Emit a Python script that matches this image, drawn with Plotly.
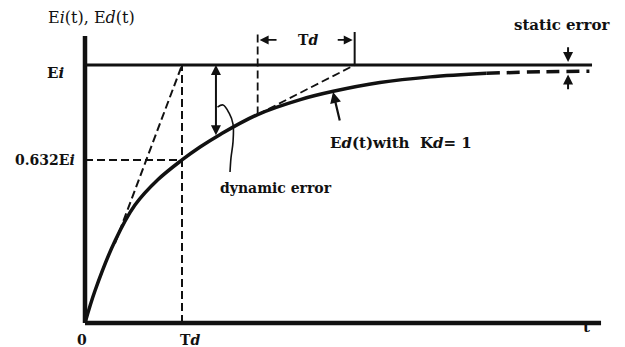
import plotly.graph_objects as go

# Time in units of Td, amplitude in units of Ei
T_CURVE = [0, 0.103, 0.309, 0.515, 0.753, 1.0, 1.186, 1.39, 1.78, 2.22, 2.56, 3.04, 3.56, 4.14]
ED_CURVE = [0, 0.125, 0.318, 0.457, 0.556, 0.632, 0.682, 0.730, 0.808, 0.866, 0.898, 0.932, 0.954, 0.968]
T_TAIL = [4.14, 4.74, 5.2]
ED_TAIL = [0.968, 0.974, 0.976]

EI = 1.0
TD = 1.0
LEVEL_632 = 0.632
T_END_AXIS = 5.32
T_END_EI = 5.227
Y_TOP_AXIS = 1.112

T_ORIGIN_TANGENT = [0.309, 1.0]          # tangent at t=0 reaching Ei at Td
T_LATER_TANGENT = [1.78, 2.78]           # tangent at t0 reaching Ei at t0+Td
ED_LATER = 0.808
T_DYN = 1.35
ED_DYN = 0.722
T_STATIC = 4.98

HOOK_T = [1.366, 1.423, 1.485, 1.526, 1.526, 1.505, 1.495]
HOOK_Y = [0.837, 0.845, 0.814, 0.771, 0.702, 0.640, 0.585]

XR = [-85 / 97, 540 / 97]
YR = [-(347 - 323) / 258, 323 / 258]

BLACK = "#111111"
SERIF = "DejaVu Serif, Liberation Serif, serif"

fig = go.Figure()


def line(x, y, width=2, dash=None, shape="linear"):
    fig.add_trace(go.Scatter(
        x=x, y=y, mode="lines", hoverinfo="skip", showlegend=False,
        line=dict(color=BLACK, width=width, dash=dash, shape=shape)))


# axes
line([0, 0], [0, Y_TOP_AXIS], width=4.5)
line([0, T_END_AXIS], [0, 0], width=4.5)
# input level Ei
line([0, T_END_EI], [EI, EI], width=3)
# response Ed(t)
line(T_CURVE, ED_CURVE, width=3.5, shape="spline")
line(T_TAIL, ED_TAIL, width=3.5, dash="13px,7px", shape="spline")

# construction lines
DASH = "8px,4px"
line(T_ORIGIN_TANGENT, [T_ORIGIN_TANGENT[0], EI], width=2, dash=DASH)
line([TD, TD], [0, EI], width=2, dash=DASH)
line([0, TD], [LEVEL_632, LEVEL_632], width=2, dash=DASH)
line(T_LATER_TANGENT, [ED_LATER, EI], width=1.8, dash=DASH)
line([T_LATER_TANGENT[0], T_LATER_TANGENT[0]], [ED_LATER, 1.128], width=1.8, dash=DASH)
line([T_LATER_TANGENT[1], T_LATER_TANGENT[1]], [EI, 1.128], width=2)

# leader for dynamic error
line(HOOK_T, HOOK_Y, width=1.6, shape="spline")

annotations = []


def arrow(t0, y0, t1, y1, both=False, width=2):
    annotations.append(dict(
        x=t1, y=y1, ax=t0, ay=y0, xref="x", yref="y", axref="x", ayref="y",
        text="", showarrow=True, arrowhead=2, arrowsize=1, arrowwidth=width,
        arrowcolor=BLACK, arrowside="end+start" if both else "end",
        startarrowhead=2, startarrowsize=1))


def label(t, y, text, size=14, bold=True, xanchor="center"):
    annotations.append(dict(
        x=t, y=y, xref="x", yref="y", text=("<b>%s</b>" % text) if bold else text,
        showarrow=False, xanchor=xanchor, yanchor="middle",
        font=dict(family=SERIF, size=size, color=BLACK)))


# dynamic error double arrow
arrow(T_DYN, ED_DYN, T_DYN, EI, both=True, width=2)
# Td span arrows
arrow(1.99, 1.097, T_LATER_TANGENT[0] + 0.02, 1.097, width=1.8)
arrow(2.59, 1.097, T_LATER_TANGENT[1] - 0.02, 1.097, width=1.8)
# pointer to Ed(t)
arrow(2.63, 0.779, 2.557, 0.895, width=2.2)
# static error arrows
arrow(T_STATIC, 1.075, T_STATIC, 1.012, width=2)
arrow(T_STATIC, 0.90, T_STATIC, 0.963, width=2)

label(0.07, 1.186, "E<i>i</i>(t), E<i>d</i>(t)", size=16, bold=False)
label(-0.30, 0.97, "E<i>i</i>", size=15)
label(-0.41, LEVEL_632, "0.632E<i>i</i>", size=14)
label(-0.03, -0.066, "0", size=14)
label(TD + 0.08, -0.066, "T<i>d</i>", size=14)
label(5.17, -0.015, "t", size=15)
label(2.30, 1.097, "T<i>d</i>", size=14)
label(1.37, 0.523, "dynamic error", size=14, xanchor="left")
label(2.505, 0.698, "E<i>d</i>(t)with  K<i>d</i>= 1", size=15, xanchor="left")
label(4.92, 1.155, "static error", size=15)

fig.update_layout(
    width=625, height=347, margin=dict(l=0, r=0, t=0, b=0),
    paper_bgcolor="white", plot_bgcolor="white",
    xaxis=dict(range=XR, visible=False, fixedrange=True),
    yaxis=dict(range=YR, visible=False, fixedrange=True),
    annotations=annotations, showlegend=False)

fig.write_html("out.html")
